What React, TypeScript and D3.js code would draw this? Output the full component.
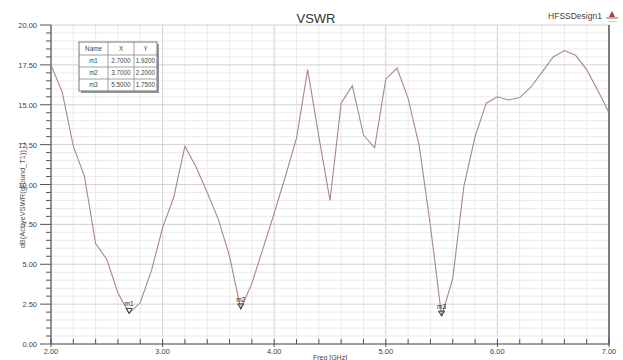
import React from "react";
import * as d3 from "d3";

const freqs = [2.0, 2.1, 2.2, 2.3, 2.4, 2.5, 2.6, 2.7, 2.8, 2.9, 3.0, 3.1, 3.2, 3.3, 3.4, 3.5, 3.6, 3.7, 3.8, 3.9, 4.0, 4.1, 4.2, 4.3, 4.4, 4.5, 4.6, 4.7, 4.8, 4.9, 5.0, 5.1, 5.2, 5.3, 5.4, 5.5, 5.6, 5.7, 5.8, 5.9, 6.0, 6.1, 6.2, 6.3, 6.4, 6.5, 6.6, 6.7, 6.8, 6.9, 7.0];
const vswr = [17.5, 15.8, 12.4, 10.5, 6.3, 5.3, 3.2, 1.92, 2.6, 4.6, 7.3, 9.2, 12.4, 11.1, 9.5, 7.8, 5.5, 2.2, 3.8, 6.0, 8.2, 10.5, 12.9, 17.2, 13.0, 9.0, 15.1, 16.2, 13.1, 12.3, 16.6, 17.3, 15.4, 12.4, 7.4, 1.75, 4.1, 9.9, 13.0, 15.1, 15.5, 15.3, 15.45, 16.1, 17.05, 18.0, 18.4, 18.1, 17.2, 15.9, 14.5];

const markerNames = ["m1", "m2", "m3"];
const markerX = [2.7, 3.7, 5.5];
const markerY = [1.92, 2.2, 1.75];

const xTickLabels = ["2.00", "3.00", "4.00", "5.00", "6.00", "7.00"];
const yTickLabels = ["0.00", "2.50", "5.00", "7.50", "10.00", "12.50", "15.00", "17.50", "20.00"];

const W = 623;
const H = 360;
const L = 51, R = 609, T = 25, B = 344;
const FONT = "Liberation Sans, Arial, sans-serif";

export default function App() {
  const x = d3.scaleLinear().domain([2, 7]).range([L, R]);
  const y = d3.scaleLinear().domain([0, 20]).range([B, T]);

  const xMinor = d3.range(0, 26).map((i) => 2 + i * 0.2);
  const yMinor = d3.range(0, 41).map((i) => i * 0.5);

  const line = d3
    .line<number>()
    .x((_, i) => x(freqs[i]))
    .y((d) => y(d));

  const colX = [79, 108, 134, 157];
  const rowY = [42, 55, 67, 79, 91];
  const header = ["Name", "X", "Y"];
  const rows = markerNames.map((n, i) => [n, markerX[i].toFixed(4), markerY[i].toFixed(4)]);

  return (
    <svg width={W} height={H} style={{ position: "absolute", left: 0, top: 0, background: "#fff" }} fontFamily={FONT}>
      <rect x={0} y={0} width={W} height={H} fill="#fff" />
      {/* grid */}
      {xMinor.map((v, i) => (
        <line key={"gx" + i} x1={x(v)} x2={x(v)} y1={T} y2={B} stroke={i % 5 === 0 ? "#d2d2d2" : "#ebebeb"} strokeWidth={1} />
      ))}
      {yMinor.map((v, i) => (
        <line key={"gy" + i} x1={L} x2={R} y1={y(v)} y2={y(v)} stroke={i % 5 === 0 ? "#d2d2d2" : "#ebebeb"} strokeWidth={1} />
      ))}
      {/* axes */}
      <line x1={L} x2={L} y1={T} y2={B} stroke="#555" strokeWidth={1.2} />
      <line x1={L} x2={R} y1={B} y2={B} stroke="#555" strokeWidth={1.2} />
      <line x1={R} x2={R} y1={T} y2={B + 1} stroke="#7a7a7a" strokeWidth={2} />
      {/* y ticks */}
      {yMinor.map((v, i) => (
        <line key={"ty" + i} x1={i % 5 === 0 ? L - 11 : L - 5} x2={L} y1={y(v)} y2={y(v)} stroke="#555" strokeWidth={1} />
      ))}
      {yTickLabels.map((t, i) => (
        <text key={"ly" + i} x={37} y={y(i * 2.5) + 3} fontSize={7.5} textAnchor="end" fill="#444">
          {t}
        </text>
      ))}
      {/* x ticks */}
      {xMinor.map((v, i) => (
        <line key={"tx" + i} x1={x(v)} x2={x(v)} y1={B - 5} y2={i % 5 === 0 ? B + 3 : B} stroke="#555" strokeWidth={1} />
      ))}
      {xTickLabels.map((t, i) => (
        <text key={"lx" + i} x={x(2 + i)} y={354} fontSize={7.5} textAnchor="middle" fill="#444">
          {t}
        </text>
      ))}
      <text x={330} y={359.5} fontSize={7} textAnchor="middle" fill="#444">
        Freq [GHz]
      </text>
      <text transform="translate(25,195) rotate(-90)" fontSize={7.5} textAnchor="middle" fill="#555">
        dB(ActiveVSWR(ground_T1))_1
      </text>
      {/* title */}
      <text x={316} y={23} fontSize={13} textAnchor="middle" fill="#333">
        VSWR
      </text>
      <text x={575} y={19} fontSize={8.5} textAnchor="middle" fill="#444">
        HFSSDesign1
      </text>
      <path d="M612,11 L609,17 L615,17 Z" fill="#c0392b" />
      <rect x={606} y={17} width={12} height={2} fill="#b5b5b5" />
      <text x={612} y={22} fontSize={2.5} textAnchor="middle" fill="#777">
        ANSOFT
      </text>
      {/* curve */}
      <path d={line(vswr) || ""} fill="none" stroke="#a8868b" strokeWidth={1.1} />
      {/* markers */}
      {markerNames.map((n, i) => {
        const px = x(markerX[i]);
        const py = y(markerY[i]);
        return (
          <g key={"m" + i}>
            <path d={`M${px},${py} L${px - 3},${py - 5} L${px + 3},${py - 5} Z`} fill="none" stroke="#222" strokeWidth={0.9} />
            <text x={px} y={py - 7} fontSize={6.5} textAnchor="middle" fill="#222">
              {n}
            </text>
          </g>
        );
      })}
      {/* marker table */}
      <rect x={colX[0] + 2} y={rowY[0] + 2} width={colX[3] - colX[0]} height={rowY[4] - rowY[0]} fill="#9a9a9a" />
      <rect x={colX[0]} y={rowY[0]} width={colX[3] - colX[0]} height={rowY[4] - rowY[0]} fill="#fff" stroke="#777" strokeWidth={1} />
      {rowY.slice(1, 4).map((ry, i) => (
        <line key={"rl" + i} x1={colX[0]} x2={colX[3]} y1={ry} y2={ry} stroke="#888" strokeWidth={0.8} />
      ))}
      {colX.slice(1, 3).map((cx, i) => (
        <line key={"cl" + i} x1={cx} x2={cx} y1={rowY[0]} y2={rowY[4]} stroke="#888" strokeWidth={0.8} />
      ))}
      {[header, ...rows].map((r, ri) =>
        r.map((c, ci) => (
          <text
            key={"c" + ri + "_" + ci}
            x={(colX[ci] + colX[ci + 1]) / 2}
            y={(rowY[ri] + rowY[ri + 1]) / 2 + 2.3}
            fontSize={6.3}
            textAnchor="middle"
            fill="#444"
          >
            {c}
          </text>
        ))
      )}
    </svg>
  );
}
